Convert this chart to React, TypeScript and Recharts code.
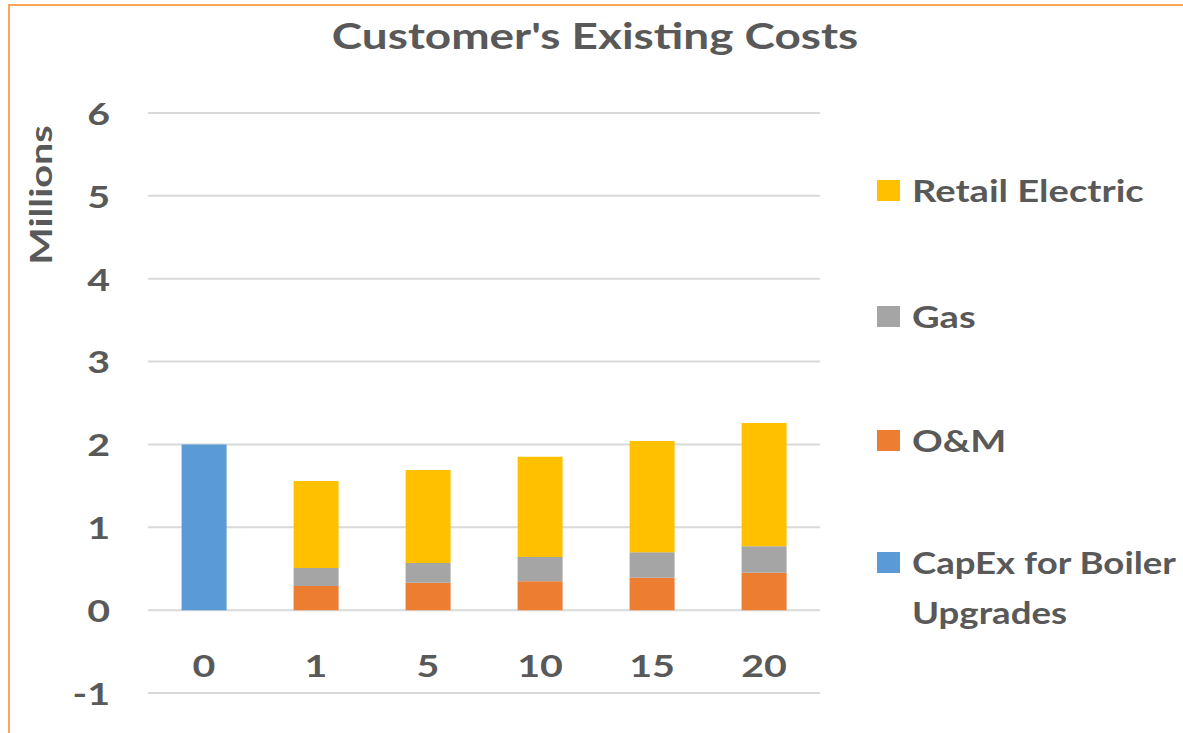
import React from 'react';
import { BarChart, Bar, XAxis, YAxis, CartesianGrid } from 'recharts';

const years = ['0', '1', '5', '10', '15', '20'];
const capex = [2.0, 0, 0, 0, 0, 0];
const om = [0, 0.29, 0.33, 0.35, 0.39, 0.45];
const gas = [0, 0.22, 0.24, 0.29, 0.31, 0.32];
const retail = [0, 1.05, 1.12, 1.21, 1.34, 1.49];
const yTicks = [-1, 0, 1, 2, 3, 4, 5, 6];

const series = [
  { key: 'capex', name: 'CapEx for Boiler Upgrades', color: '#5B9BD5' },
  { key: 'om', name: 'O&M', color: '#ED7D31' },
  { key: 'gas', name: 'Gas', color: '#A5A5A5' },
  { key: 'retail', name: 'Retail Electric', color: '#FFC000' },
];

const data = years.map((year, i) => ({
  year,
  capex: capex[i],
  om: om[i],
  gas: gas[i],
  retail: retail[i],
}));

const FONT = 'Lato, "Open Sans", sans-serif';
const TEXT = '#595959';
const STRETCH = 1.27;

const XTick = ({ x, y, payload }: any) => (
  <g transform={`translate(${x},${y - 28}) scale(${STRETCH},1)`}>
    <text
      x={0}
      y={0}
      textAnchor="middle"
      dominantBaseline="central"
      fill={TEXT}
      fontSize={31}
      fontWeight={700}
      fontFamily={FONT}
    >
      {payload.value}
    </text>
  </g>
);

const YTick = ({ x, y, payload }: any) => (
  <g transform={`translate(${x},${y}) scale(${STRETCH},1)`}>
    <text
      x={0}
      y={0}
      textAnchor="end"
      dominantBaseline="central"
      fill={TEXT}
      fontSize={31}
      fontWeight={700}
      fontFamily={FONT}
    >
      {payload.value}
    </text>
  </g>
);

const textStyle: React.CSSProperties = {
  fontFamily: FONT,
  fontWeight: 700,
  color: TEXT,
  whiteSpace: 'nowrap',
};

const LegendBox = () => {
  const items = [...series].reverse();
  const tops = [165, 291, 415, 537];
  return (
    <>
      {items.map((s, i) => {
        const wrapped = s.name === 'CapEx for Boiler Upgrades';
        return (
          <div
            key={s.key}
            style={{ position: 'absolute', top: tops[i], left: 877, display: 'flex', alignItems: 'flex-start' }}
          >
            <span
              style={{
                display: 'inline-block',
                width: 23,
                height: 21,
                background: s.color,
                marginTop: 15,
                marginRight: 12,
                flex: 'none',
              }}
            />
            <div
              style={{
                ...textStyle,
                fontSize: 30,
                lineHeight: '50px',
                transform: `scaleX(${wrapped ? 1.22 : STRETCH})`,
                transformOrigin: 'left top',
              }}
            >
              {wrapped ? (
                <>
                  CapEx for Boiler
                  <br />
                  Upgrades
                </>
              ) : (
                s.name
              )}
            </div>
          </div>
        );
      })}
    </>
  );
};

export default function App() {
  return (
    <div
      style={{
        position: 'absolute',
        left: 0,
        top: 0,
        width: 1183,
        height: 733,
        overflow: 'hidden',
        background: '#fff',
      }}
    >
      <div
        style={{
          position: 'absolute',
          left: 8,
          top: 4,
          width: 1300,
          height: 900,
          borderLeft: '2px solid #F9A65A',
          borderTop: '2px solid #F9A65A',
        }}
      />
      <div
        style={{
          ...textStyle,
          position: 'absolute',
          top: 12,
          left: 0,
          width: 1190,
          textAlign: 'center',
          fontSize: 37,
          transform: `scaleX(${STRETCH - 0.03})`,
        }}
      >
        Customer's Existing Costs
      </div>
      <div
        style={{
          ...textStyle,
          position: 'absolute',
          left: 40,
          top: 195,
          transform: `translate(-50%, -50%) rotate(-90deg) scaleX(${STRETCH + 0.05})`,
          fontSize: 30,
        }}
      >
        Millions
      </div>
      <div style={{ position: 'absolute', left: 0, top: 0 }}>
        <BarChart
          width={1183}
          height={733}
          data={data}
          margin={{ top: 113, right: 363, bottom: 0, left: 0 }}
          barCategoryGap="30%"
        >
          <CartesianGrid horizontal vertical={false} stroke="#D9D9D9" strokeWidth={2} />
          <XAxis
            dataKey="year"
            axisLine={false}
            tickLine={false}
            tickSize={0}
            tickMargin={0}
            tick={<XTick />}
            height={40}
            interval={0}
          />
          <YAxis
            domain={[-1, 6]}
            ticks={yTicks}
            interval={0}
            axisLine={false}
            tickLine={false}
            tickSize={0}
            tickMargin={38}
            width={148}
            tick={<YTick />}
          />
          {series.map((s) => (
            <Bar
              key={s.key}
              dataKey={s.key}
              name={s.name}
              stackId="a"
              fill={s.color}
              isAnimationActive={false}
            />
          ))}
        </BarChart>
      </div>
      <LegendBox />
    </div>
  );
}
